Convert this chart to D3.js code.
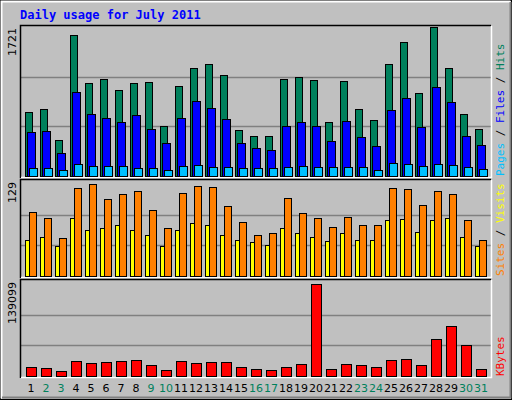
<!DOCTYPE html>
<html><head><meta charset="utf-8">
<script src="https://cdn.jsdelivr.net/npm/d3@7"></script>
<style>body{margin:0;background:#fff}</style></head>
<body><svg id="c" width="512" height="400"></svg>
<script>
const days = d3.range(1, 32);
const weekend = [2,3,9,10,16,17,23,24,30,31];
const hits = [739,774,416,1629,1074,1120,993,1074,1086,578,1040,1247,1294,1167,531,462,462,1120,1143,1109,624,1097,774,647,1294,1548,959,1721,1247,716,543];
const files = [508,520,266,970,716,670,624,705,543,381,670,866,785,658,381,323,300,578,624,578,404,635,450,347,762,901,566,1028,855,462,358];
const pages = [92,92,69,139,116,116,116,92,92,69,116,127,104,104,92,92,92,104,116,104,104,104,104,69,150,139,116,139,127,104,81];
const visits = [90,82,53,123,129,108,115,119,93,67,117,126,125,98,76,58,60,110,89,82,69,83,71,72,123,122,100,119,115,78,50];
const sites = [50,54,42,82,64,67,71,64,57,42,65,75,71,58,51,47,43,68,60,55,49,60,51,50,78,80,61,79,82,54,42];
const kbytes = [13600,12100,7560,22700,19700,21200,22700,24200,16600,9070,22700,19700,21200,21200,13600,10600,9070,13600,18100,139099,10600,18100,16600,13600,24200,25700,16600,55900,75600,46900,10600];
const maxLabels = ["1721","129","139099"];

const svg = d3.select("#c");
const mono = "'DejaVu Sans Mono', monospace";
// frame
svg.append("rect").attr("x",0.5).attr("y",0.5).attr("width",511).attr("height",399).attr("fill","#C0C0C0").attr("stroke","#000");
svg.append("path").attr("d","M1.5,398.5V1.5H510.5").attr("stroke","#fff").attr("fill","none").attr("stroke-width",2);
svg.append("path").attr("d","M2,397.5H510.5V2").attr("stroke","#808080").attr("fill","none").attr("stroke-width",2);

svg.append("text").attr("x",20).attr("y",19).text("Daily usage for July 2011")
  .attr("font-family",mono).attr("font-weight","bold").attr("font-size",12).attr("fill","#0000FF");

const x = d3.scaleLinear().domain([1,32]).range([25,490]);
const panels = [
  {top:25,bot:178,max:1721,lab:maxLabels[0]},
  {top:179,bot:278,max:129,lab:maxLabels[1]},
  {top:279,bot:378,max:139099,lab:maxLabels[2]}
];
panels.forEach((p,i)=>{
  svg.append("rect").attr("x",20.5).attr("y",p.top+0.5).attr("width",471).attr("height",p.bot-p.top-1).attr("fill","#C0C0C0");
  const y = d3.scaleLinear().domain([0,p.max]).range([p.bot-2,p.top+ (i==0?2:5)]);
  p.y=y;
  [1/3,2/3].forEach(f=>{
    const yy=Math.round(y(p.max*f))+0.5;
    svg.append("line").attr("x1",21).attr("x2",491).attr("y1",yy).attr("y2",yy).attr("stroke","#808080").attr("stroke-width",1.5);
  });
  svg.append("path").attr("d",`M20.5,${p.bot}V${p.top+0.5}H491`).attr("stroke","#000").attr("fill","none").attr("stroke-width",1.5);
  svg.append("path").attr("d",`M21,${p.bot-0.5}H491.5V${p.top+1}`).attr("stroke","#fff").attr("fill","none").attr("stroke-width",1.5);
  svg.append("text").attr("transform",`translate(16,${p.top+3}) rotate(-90)`).attr("text-anchor","end")
    .attr("font-family","'DejaVu Sans', sans-serif").attr("font-size",11).text(p.lab);
});

function bars(data, yS, dx, w, color){
  svg.append("g").selectAll("rect").data(data).join("rect")
    .attr("x",(d,i)=>Math.round(x(days[i]))+dx+0.5).attr("width",w)
    .attr("y",d=>Math.round(yS(d))+0.5).attr("height",d=>Math.max(0,Math.round(yS(0))-Math.round(yS(d))))
    .attr("fill",color).attr("stroke","#000").attr("stroke-width",1);
}
bars(hits,panels[0].y,0,7,"#00805C");
bars(files,panels[0].y,2,8,"#0000FF");
bars(pages,panels[0].y,4,8,"#00C0FF");
bars(sites,panels[1].y,0,5,"#FFFF00");
bars(visits,panels[1].y,4,7,"#FF8000");
bars(kbytes,panels[2].y,1,10,"#FF0000");

svg.append("g").selectAll("text").data(days).join("text")
  .attr("x",d=>x(d)+6).attr("y",392).attr("text-anchor","middle")
  .attr("font-family","'DejaVu Sans', sans-serif").attr("font-size",11)
  .attr("fill",d=>weekend.includes(d)?"#00805C":"#000").text(d=>d);

function rlabel(yb, parts){
  const t=svg.append("text").attr("transform",`translate(504,${yb}) rotate(-90)`)
    .attr("font-family",mono).attr("font-size",11);
  parts.forEach(([s,c])=>t.append("tspan").attr("fill",c).text(s));
}
rlabel(176,[["Pages","#00C0FF"],[" / ","#000"],["Files","#0000FF"],[" / ","#000"],["Hits","#00805C"]]);
rlabel(276,[["Sites","#FF8000"],[" / ","#000"],["Visits","#FFFF00"]]);
rlabel(376,[["KBytes","#FF0000"]]);
</script></body></html>
